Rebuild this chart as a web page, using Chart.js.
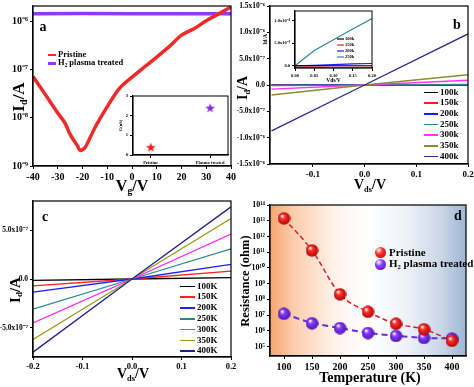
<!DOCTYPE html>
<html>
<head>
<meta charset="utf-8">
<script src="https://cdn.jsdelivr.net/npm/chart.js"></script>
<style>
body{margin:0;background:#fff;width:474px;height:387px;position:relative;overflow:hidden;font-family:"Liberation Serif","Times New Roman",serif;font-weight:bold;color:#000}
canvas{position:absolute}
.t{position:absolute;white-space:nowrap;line-height:1;transform:translate(-50%,-50%)}
.rot{transform:translate(-50%,-50%) rotate(-90deg)}
sub{font-size:60%;vertical-align:-0.3em;line-height:0}
.lg{position:absolute;white-space:nowrap;line-height:1}
.lg span.l{display:inline-block;vertical-align:middle;margin-right:2px}
.lg span.b{display:inline-block;vertical-align:middle;border-radius:50%;margin-right:3px}
</style>
</head>
<body>
<canvas id="ca" width="237" height="197" style="left:0;top:0"></canvas>
<canvas id="cb" width="247" height="197" style="left:227px;top:0"></canvas>
<canvas id="cc" width="237" height="190" style="left:0;top:197px"></canvas>
<canvas id="cd" width="237" height="190" style="left:237px;top:197px"></canvas>
<canvas id="cai" width="116" height="76" style="left:118px;top:90px"></canvas>
<canvas id="cbi" width="114" height="80" style="left:262px;top:4px"></canvas>

<div class="t" style="left:132px;top:186px;font-size:16px">V<sub>g</sub>/V</div>
<div class="t rot" style="left:18px;top:97px;font-size:17px">I<sub>d</sub>/A</div>
<div class="t" style="left:43px;top:27px;font-size:14px">a</div>

<div class="t" style="left:370px;top:185px;font-size:14px">V<sub>ds</sub>/V</div>
<div class="t rot" style="left:243px;top:88px;font-size:14px">I<sub>d</sub>/A</div>
<div class="t" style="left:457px;top:25px;font-size:14px">b</div>

<div class="t" style="left:133px;top:374px;font-size:14px">V<sub>ds</sub>/V</div>
<div class="t rot" style="left:15px;top:290px;font-size:15px">I<sub>d</sub>/A</div>
<div class="t" style="left:45px;top:217px;font-size:14px">c</div>

<div class="t" style="left:370px;top:378px;font-size:14px">Temperature (K)</div>
<div class="t rot" style="left:245px;top:281px;font-size:12.5px">Resistance (ohm)</div>
<div class="t" style="left:458px;top:216px;font-size:14px">d</div>

<script>
// panel a: transfer curves
const vgPristine = [-40,-35,-30,-27,-25,-22,-21,-19,-17,-15,-10,-5,0,5,10,15,20,25,30,35,40];
const idPristine = [7.1e-8,3.0e-8,1.25e-8,7.6e-9,4.5e-9,2.6e-9,2.1e-9,2.4e-9,3.8e-9,6.2e-9,1.7e-8,4.1e-8,6.9e-8,1.12e-7,1.8e-7,2.95e-7,5.1e-7,6.9e-7,1.02e-6,1.41e-6,1.95e-6];
const vgPlasma = [-40,-20,0,20,40];
const idPlasma = [1.42e-6,1.43e-6,1.42e-6,1.42e-6,1.42e-6];
// inset a
const samples = ['Pristine','Plasma treated'];
const conductance = [0.4, 2.4];

// panel b
const seriesB = ['100k','150k','200k','250k','300k','350k','400k'];
const vdsB = [-0.18, 0, 0.2];
const idB = [
  [-5e-11, 0, 5e-11],
  [-3e-10, 0, 3e-10],
  [-5e-10, 0, 5e-10],
  [-9.5e-9, 0, 1.05e-8],
  [-8e-8, 0, 9e-8],
  [-1.9e-7, 0, 1.95e-7],
  [-8.7e-7, 0, 9.7e-7]
];
// inset b
const seriesBi = ['100k','150k','200k','250k'];
const vdsBi = [0, 0.05, 0.1, 0.15, 0.2];
const idBi = [
  [0, 0, 0, 0, 0],
  [-3e-10, -3e-10, -3.5e-10, -3.5e-10, -3.5e-10],
  [0, 1e-10, 2.5e-10, 4e-10, 5e-10],
  [0, 3.4e-9, 5.8e-9, 8.2e-9, 1.05e-8]
];

// panel c
const seriesC = ['100K','150K','200K','250K','300K','350K','400K'];
const vdsC = [-0.2, 0, 0.2];
const idC = [
  [-1.5e-8, 0, 1.5e-8],
  [-7e-8, 0, 8e-8],
  [-1.35e-7, 0, 1.5e-7],
  [-3.1e-7, 0, 3.1e-7],
  [-4.5e-7, 0, 4.6e-7],
  [-6.2e-7, 0, 6.2e-7],
  [-7.5e-7, 0, 7.4e-7]
];

// panel d
const temps = [100,150,200,250,300,350,400];
const resPristine = [1.4e13, 1.3e11, 2.1e8, 1.6e7, 2.8e6, 1.25e6, 2.3e5];
const resPlasma = [1.2e7, 3.0e6, 1.5e6, 7.2e5, 4.7e5, 3.5e5, 3.2e5];

const colorsB = ['#000000','#ff1a1a','#1a1aff','#2a8c8c','#ff33ff','#8c8c2a','#2a2a8c'];
const colorsC = ['#000000','#ff2020','#2020ff','#2a8a8a','#ff20ff','#9a9a18','#20208a'];

Chart.defaults.font.family = '"Liberation Serif","Times New Roman",serif';
Chart.defaults.font.weight = 'bold';
Chart.defaults.color = '#000';
Chart.defaults.animation = false;
Chart.defaults.responsive = false;
Chart.defaults.plugins.legend.display = false;
Chart.defaults.plugins.tooltip.enabled = false;
Chart.defaults.elements.point.radius = 0;

const SUP = {'-':'⁻','0':'⁰','1':'¹','2':'²','3':'³','4':'⁴','5':'⁵','6':'⁶','7':'⁷','8':'⁸','9':'⁹'};
const sup = n => String(n).split('').map(c => SUP[c]).join('');
const fmtPow = v => '10' + sup(Math.round(Math.log10(v)));
const fmtSci = v => {
  if (v === 0) return '0.0';
  const e = Math.floor(Math.log10(Math.abs(v)) + 1e-9);
  return (v < 0 ? '-' : '') + (Math.abs(v) / Math.pow(10, e)).toFixed(1) + 'x10' + sup(e);
};

const frame = {
  id: 'frame',
  beforeDraw(c, args, o) {
    const a = c.chartArea, x = c.ctx;
    x.save();
    if (o.fill === 'white') {
      x.fillStyle = '#fff';
      x.fillRect(a.left, a.top, a.right - a.left, a.bottom - a.top);
    } else if (o.fill === 'grad') {
      const g = x.createLinearGradient(a.left, 0, a.right, 0);
      g.addColorStop(0, '#f6a56c');
      g.addColorStop(0.12, '#fbcdae');
      g.addColorStop(0.33, '#fff3ea');
      g.addColorStop(0.5, '#ffffff');
      g.addColorStop(0.7, '#eef2f8');
      g.addColorStop(0.88, '#c8d5e6');
      g.addColorStop(1, '#9db5d3');
      x.fillStyle = g;
      x.fillRect(a.left, a.top, a.right - a.left, a.bottom - a.top);
    }
    x.restore();
  },
  afterDraw(c, args, o) {
    const a = c.chartArea, x = c.ctx;
    x.save();
    x.strokeStyle = '#000';
    x.lineWidth = o.lw || 1.2;
    x.strokeRect(a.left, a.top, a.right - a.left, a.bottom - a.top);
    if (o.legend) {
      const L = o.legend;
      x.font = 'bold ' + L.size + 'px "Liberation Serif"';
      x.textBaseline = 'middle';
      L.items.forEach((t, i) => {
        const y = L.y + i * L.dy;
        x.strokeStyle = L.colors[i];
        x.lineWidth = 1.2;
        x.beginPath(); x.moveTo(L.x, y); x.lineTo(L.x + L.len, y); x.stroke();
        x.fillStyle = '#000';
        x.fillText(t, L.x + L.len + 1, y);
      });
    }
    x.restore();
  }
};
Chart.register(frame);

function scale(type, min, max, ticks, fmt, size, fit, isY, extra) {
  const s = {
    type, min, max,
    afterBuildTicks: sc => { sc.ticks = ticks.map(v => ({ value: v })); },
    afterFit: isY
      ? sc => { sc.width = fit; sc.paddingTop = 0; sc.paddingBottom = 0; }
      : sc => { sc.height = fit; sc.paddingLeft = 0; sc.paddingRight = 0; },
    border: { color: '#000', width: 1.2 },
    grid: { drawOnChartArea: false, color: '#000', tickLength: 3 },
    ticks: { font: { size }, padding: 2, maxRotation: 0, autoSkip: false, callback: v => fmt(v) }
  };
  return Object.assign(s, extra || {});
}

function sphere(light, dark, r) {
  const cv = document.createElement('canvas');
  cv.width = cv.height = 2 * r;
  const g = cv.getContext('2d');
  const gr = g.createRadialGradient(r * 0.7, r * 0.6, 0.5, r, r, r);
  gr.addColorStop(0, '#ffffff');
  gr.addColorStop(0.3, light);
  gr.addColorStop(1, dark);
  g.fillStyle = gr;
  g.beginPath(); g.arc(r, r, r - 0.3, 0, Math.PI * 2); g.fill();
  return cv;
}
function star(color, r) {
  const cv = document.createElement('canvas');
  cv.width = cv.height = 2 * r;
  const g = cv.getContext('2d');
  g.fillStyle = color;
  g.beginPath();
  for (let i = 0; i < 10; i++) {
    const rr = i % 2 ? r * 0.42 : r;
    const ang = -Math.PI / 2 + i * Math.PI / 5;
    g.lineTo(r + rr * Math.cos(ang), r + 0.5 + rr * Math.sin(ang));
  }
  g.closePath(); g.fill();
  return cv;
}
const pts = (xs, ys) => xs.map((v, i) => ({ x: v, y: ys[i] }));

// ---- panel a
new Chart(document.getElementById('ca'), {
  type: 'line',
  data: { datasets: [
    { data: pts(vgPristine, idPristine), borderColor: '#f02a2a', borderWidth: 3.5, cubicInterpolationMode: 'monotone' },
    { data: pts(vgPlasma, idPlasma), borderColor: '#9038f8', borderWidth: 3.5 }
  ]},
  options: {
    layout: { padding: { top: 6, right: 6, left: 0, bottom: 0 } },
    plugins: { frame: {} },
    scales: {
      x: scale('linear', -40, 40, [-40,-30,-20,-10,0,10,20,30,40], v => v, 10, 31, false),
      y: scale('logarithmic', 1e-9, 2.05e-6, [1e-9,1e-8,1e-7,1e-6], fmtPow, 10, 33, true)
    }
  }
});

// inset a
new Chart(document.getElementById('cai'), {
  type: 'scatter',
  data: { datasets: [{
    data: conductance.map((v, i) => ({ x: i, y: v })),
    pointStyle: [star('#ff1a1a', 5), star('#8a2cf0', 5)],
    pointRadius: 5
  }]},
  options: {
    layout: { padding: { top: 4, right: 5, left: 0, bottom: 0 } },
    plugins: { frame: { fill: 'white', lw: 1 } },
    scales: {
      x: scale('linear', -0.3, 1.3, [0, 1], v => samples[v], 4.5, 11, false,
        { title: { display: false } }),
      y: scale('linear', 0, 3, [0, 1, 2, 3], v => v, 4.5, 15, true,
        { title: { display: true, text: 'G(uS)', font: { size: 4.5 }, padding: 0 } })
    }
  }
});

// ---- panel b
new Chart(document.getElementById('cb'), {
  type: 'line',
  data: { datasets: idB.map((d, i) => ({
    data: pts(vdsB, d), borderColor: colorsB[i], borderWidth: 1.3
  })).reverse() },
  options: {
    layout: { padding: { top: 6, right: 6, left: 0, bottom: 0 } },
    plugins: { frame: {} },
    scales: {
      x: scale('linear', -0.183, 0.2, [-0.1, 0, 0.1, 0.2], v => v.toFixed(1), 9, 33, false),
      y: scale('linear', -1.5e-6, 1.5e-6, [-1.5e-6,-1e-6,-5e-7,0,5e-7,1e-6,1.5e-6], fmtSci, 7.5, 43, true)
    }
  }
});

// inset b
new Chart(document.getElementById('cbi'), {
  type: 'line',
  data: { datasets: idBi.map((d, i) => ({
    data: pts(vdsBi, d), borderColor: colorsB[i], borderWidth: 1.2
  })) },
  options: {
    layout: { padding: { top: 7, right: 4, left: 0, bottom: 0 } },
    plugins: { frame: { fill: 'white', lw: 1,
      legend: { items: seriesBi, colors: colorsB, x: 75, y: 35, dy: 6, len: 7, size: 4.5 } } },
    scales: {
      x: scale('linear', 0, 0.2, [0, 0.05, 0.1, 0.15, 0.2], v => v.toFixed(2), 4.5, 16, false,
        { title: { display: true, text: 'Vds/V', font: { size: 5.5 }, padding: 0 } }),
      y: scale('linear', -5e-10, 1.22e-8, [0, 5e-9, 1e-8], fmtSci, 4.5, 33, true,
        { title: { display: true, text: 'Id/A', font: { size: 5.5 }, padding: 0 } })
    }
  }
});

// ---- panel c
new Chart(document.getElementById('cc'), {
  type: 'line',
  data: { datasets: idC.map((d, i) => ({
    data: pts(vdsC, d), borderColor: colorsC[i], borderWidth: 1.3
  })).reverse() },
  options: {
    layout: { padding: { top: 4, right: 6, left: 0, bottom: 0 } },
    plugins: { frame: {} },
    scales: {
      x: scale('linear', -0.2, 0.2, [-0.2, -0.1, 0, 0.1, 0.2], v => v.toFixed(1), 8.5, 30, false),
      y: scale('linear', -8e-7, 8e-7, [-5e-7, 0, 5e-7], fmtSci, 7.5, 33, true)
    }
  }
});

// ---- panel d
new Chart(document.getElementById('cd'), {
  type: 'line',
  data: { datasets: [
    { data: pts(temps, resPristine), borderColor: '#d82020', borderWidth: 1.5, borderDash: [5, 3],
      cubicInterpolationMode: 'monotone', pointStyle: sphere('#ff3030', '#b00000', 6.5), pointRadius: 6 },
    { data: pts(temps, resPlasma), borderColor: '#6a2ae0', borderWidth: 2, borderDash: [6, 4],
      pointStyle: sphere('#8a3cff', '#4a10b0', 6.5), pointRadius: 6 }
  ]},
  options: {
    layout: { padding: { top: 2, right: 6, left: 0, bottom: 0 } },
    plugins: { frame: { fill: 'grad' } },
    scales: {
      x: scale('linear', 75, 425, [100,150,200,250,300,350,400], v => v, 10, 31, false),
      y: scale('logarithmic', 2.5e4, 1e14, [1e5,1e6,1e7,1e8,1e9,1e10,1e11,1e12,1e13,1e14], fmtPow, 8, 33, true)
    }
  }
});

// ---- html legends
function legend(labels, colors, x, y, dy, len, lw, size, bullet) {
  labels.forEach((t, i) => {
    const d = document.createElement('div');
    d.className = 'lg';
    d.style.left = x + 'px';
    d.style.top = (y + i * dy - size / 2) + 'px';
    d.style.fontSize = size + 'px';
    const m = document.createElement('span');
    if (bullet) {
      m.className = 'b';
      m.style.width = m.style.height = len + 'px';
      m.style.background = 'radial-gradient(circle at 35% 30%, #fff 0%, ' + colors[i][0] + ' 35%, ' + colors[i][1] + ' 100%)';
    } else {
      m.className = 'l';
      m.style.width = len + 'px';
      m.style.height = lw + 'px';
      m.style.background = colors[i];
    }
    d.appendChild(m);
    const s = document.createElement('span');
    s.innerHTML = t;
    d.appendChild(s);
    document.body.appendChild(d);
  });
}
legend(['Pristine', 'H<sub>2</sub> plasma treated'], ['#f02a2a', '#9038f8'], 48, 54, 8.5, 8, 2.5, 8.5);
legend(seriesB, colorsB, 424, 92, 10.7, 14, 1.5, 9);
legend(seriesC, colorsC, 180, 286, 10.8, 15, 1.5, 9);
legend(['Pristine', 'H<sub>2</sub> plasma treated'], [['#ff3030', '#b00000'], ['#8a3cff', '#4a10b0']], 375, 252, 11.5, 11, 0, 11, true);
</script>
</body>
</html>
